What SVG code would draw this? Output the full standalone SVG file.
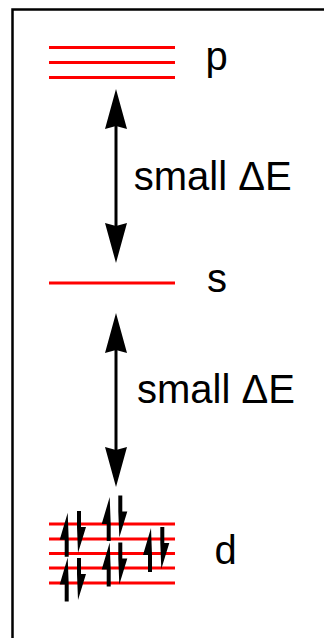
<svg xmlns="http://www.w3.org/2000/svg" width="324" height="638" viewBox="0 0 324 638">
<style>
.lvl{stroke:#ff0000;stroke-width:3;fill:none}
.lbl{font-family:"Liberation Sans",Arial,sans-serif;font-size:40px;fill:#000}
.conn{stroke:#000;stroke-width:3;fill:none}
.e{fill:#000}
</style>
<defs>
<marker id="head" markerUnits="userSpaceOnUse" viewBox="0 0 40 22" markerWidth="40" markerHeight="22" refX="3" refY="11" orient="auto-start-reverse">
<path d="M0,0 L40,11 L0,22 L3,11 z" fill="#000"/>
</marker>
<path id="up" d="M3,0 L4,27 L4,44 L0,44 L0,27 L-5,27 z"/>
<path id="dn" d="M0,0 L4,0 L4,16 L9,16 L1,42 L0,16 z"/>
</defs>
<path d="M12.5,638 V9.5 H324" stroke="#000" stroke-width="2.5" fill="none"/>
<g id="level-p">
<line class="lvl" x1="49" y1="47.5" x2="175" y2="47.5"/>
<line class="lvl" x1="49" y1="62.5" x2="175" y2="62.5"/>
<line class="lvl" x1="49" y1="77.5" x2="175" y2="77.5"/>
<text class="lbl" x="205.5" y="70">p</text>
</g>
<g id="level-s">
<line class="lvl" x1="49" y1="283" x2="175" y2="283"/>
<text class="lbl" x="207" y="292">s</text>
</g>
<g id="level-d">
<line class="lvl" x1="49" y1="524" x2="175" y2="524"/>
<line class="lvl" x1="49" y1="539" x2="175" y2="539"/>
<line class="lvl" x1="49" y1="553.5" x2="175" y2="553.5"/>
<line class="lvl" x1="49" y1="568" x2="175" y2="568"/>
<line class="lvl" x1="49" y1="583" x2="175" y2="583"/>
<g class="e">
<use href="#up" x="64.7" y="512.7"/>
<use href="#dn" x="77" y="511"/>
<use href="#up" x="64.7" y="557.5"/>
<use href="#dn" x="77" y="558"/>
<use href="#up" x="106.7" y="497"/>
<use href="#dn" x="118.3" y="495.5"/>
<use href="#up" x="106.7" y="542.5"/>
<use href="#dn" x="118.3" y="542.5"/>
<use href="#up" x="148" y="528"/>
<use href="#dn" x="160.3" y="527"/>
</g>
<text class="lbl" x="214.6" y="564">d</text>
</g>
<g id="connectors">
<line class="conn" x1="116" y1="126" x2="116" y2="226" marker-start="url(#head)" marker-end="url(#head)"/>
<line class="conn" x1="116" y1="350" x2="116" y2="450" marker-start="url(#head)" marker-end="url(#head)"/>
</g>
<g id="labels">
<text class="lbl" x="133.8" y="190">small ΔE</text>
<text class="lbl" x="137" y="403">small ΔE</text>
</g>
</svg>
